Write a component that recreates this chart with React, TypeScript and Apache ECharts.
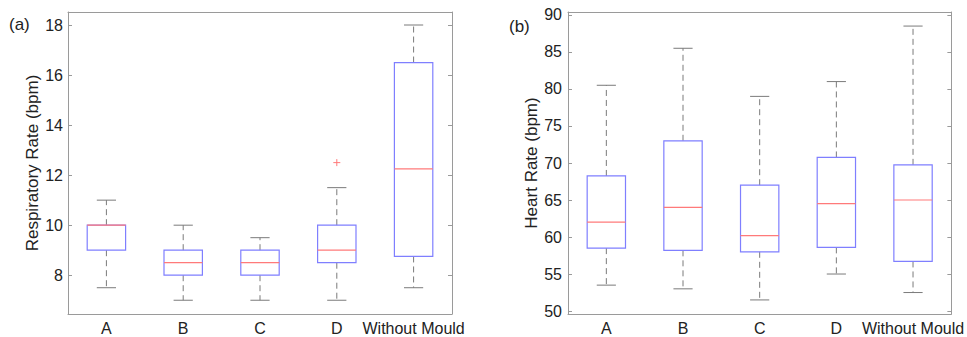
import React, { useEffect, useRef } from "react";
import * as echarts from "echarts";

const categories = ["A", "B", "C", "D", "Without Mould"];

// Respiratory rate: [lowWhisker, q1, median, q3, highWhisker]
const rrLow = [7.5, 7, 7, 7, 7.5];
const rrQ1 = [9, 8, 8, 8.5, 8.75];
const rrMed = [10, 8.5, 8.5, 9, 12.25];
const rrQ3 = [10, 9, 9, 10, 16.5];
const rrHigh = [11, 10, 9.5, 11.5, 18];
const rrOutliers: [number, number][] = [[3, 12.5]];
const rrTicks = [8, 10, 12, 14, 16, 18];

// Heart rate
const hrLow = [53.5, 53, 51.5, 55, 52.5];
const hrQ1 = [58.5, 58.2, 58, 58.6, 56.7];
const hrMed = [62, 64, 60.2, 64.5, 65];
const hrQ3 = [68.25, 73, 67, 70.75, 69.75];
const hrHigh = [80.5, 85.5, 79, 81, 88.5];
const hrOutliers: [number, number][] = [];
const hrTicks = [50, 55, 60, 65, 70, 75, 80, 85, 90];

const FONT = "'Liberation Sans', Arial, Helvetica, sans-serif";
const TEXT = "#222222";
const AXIS = "#9a9a9a";
const BLUE = "#7f7fff";
const RED = "#ff7a7a";
const WHISK = "#7a7a7a";

function boxData(lo: number[], q1: number[], md: number[], q3: number[], hi: number[]) {
  return categories.map((_, i) => [i, lo[i], q1[i], md[i], q3[i], hi[i]]);
}

function boxRender(params: any, api: any) {
  const i = api.value(0);
  const lo = api.value(1), q1 = api.value(2), md = api.value(3), q3 = api.value(4), hi = api.value(5);
  const bw = api.size([1, 0])[0] * 0.5;
  const cw = bw * 0.5;
  const pLo = api.coord([i, lo]);
  const pQ1 = api.coord([i, q1]);
  const pMd = api.coord([i, md]);
  const pQ3 = api.coord([i, q3]);
  const pHi = api.coord([i, hi]);
  const x = pMd[0];
  const dash = { stroke: WHISK, lineWidth: 1, lineDash: [6, 4] };
  const solid = { stroke: WHISK, lineWidth: 1 };
  return {
    type: "group",
    children: [
      { type: "line", shape: { x1: x, y1: pQ3[1], x2: x, y2: pHi[1] }, style: dash },
      { type: "line", shape: { x1: x, y1: pQ1[1], x2: x, y2: pLo[1] }, style: dash },
      { type: "line", shape: { x1: x - cw / 2, y1: pHi[1], x2: x + cw / 2, y2: pHi[1] }, style: solid },
      { type: "line", shape: { x1: x - cw / 2, y1: pLo[1], x2: x + cw / 2, y2: pLo[1] }, style: solid },
      {
        type: "rect",
        shape: { x: x - bw / 2, y: pQ3[1], width: bw, height: pQ1[1] - pQ3[1] },
        style: { fill: "none", stroke: BLUE, lineWidth: 1.2 },
      },
      { type: "line", shape: { x1: x - bw / 2, y1: pMd[1], x2: x + bw / 2, y2: pMd[1] }, style: { stroke: RED, lineWidth: 1.2 } },
    ],
  };
}

function outlierRender(params: any, api: any) {
  const p = api.coord([api.value(0), api.value(1)]);
  const s = 3.5;
  return {
    type: "group",
    children: [
      { type: "line", shape: { x1: p[0] - s, y1: p[1], x2: p[0] + s, y2: p[1] }, style: { stroke: RED, lineWidth: 1 } },
      { type: "line", shape: { x1: p[0], y1: p[1] - s, x2: p[0], y2: p[1] + s }, style: { stroke: RED, lineWidth: 1 } },
    ],
  };
}

function makeAxes(gridIndex: number, min: number, max: number, ticks: number[], name: string, labelMargin: number) {
  const xBottom = {
    type: "category",
    gridIndex,
    data: categories,
    position: "bottom",
    axisLine: { lineStyle: { color: AXIS, width: 1 } },
    axisTick: { inside: true, alignWithLabel: true, length: 4, lineStyle: { color: AXIS } },
    axisLabel: { color: TEXT, fontSize: 16, fontFamily: FONT, margin: 6, interval: 0 },
    splitLine: { show: false },
  };
  const xTop = {
    type: "category",
    gridIndex,
    data: categories,
    position: "top",
    axisLine: { lineStyle: { color: AXIS, width: 1 } },
    axisTick: { inside: true, alignWithLabel: true, length: 4, lineStyle: { color: AXIS } },
    axisLabel: { show: false },
    splitLine: { show: false },
  };
  const yLeft = {
    type: "value",
    gridIndex,
    min,
    max,
    position: "left",
    name,
    nameLocation: "middle",
    nameGap: 27,
    nameTextStyle: { color: TEXT, fontSize: 17, fontFamily: FONT },
    axisLine: { show: true, lineStyle: { color: AXIS, width: 1 } },
    axisTick: { show: true, inside: true, length: 4, lineStyle: { color: AXIS }, customValues: ticks },
    axisLabel: { color: TEXT, fontSize: 16, fontFamily: FONT, margin: labelMargin, customValues: ticks },
    splitLine: { show: false },
  };
  const yRight = {
    type: "value",
    gridIndex,
    min,
    max,
    position: "right",
    axisLine: { show: true, lineStyle: { color: AXIS, width: 1 } },
    axisTick: { show: true, inside: true, length: 4, lineStyle: { color: AXIS }, customValues: ticks },
    axisLabel: { show: false, customValues: ticks },
    splitLine: { show: false },
  };
  return { x: [xBottom, xTop], y: [yLeft, yRight] };
}

export default function App() {
  const ref = useRef<HTMLDivElement>(null);
  useEffect(() => {
    document.body.style.margin = "0";
    if (!ref.current) return;
    const chart = echarts.init(ref.current, undefined, { renderer: "svg" });
    const a = makeAxes(0, 6.45, 18.52, rrTicks, "Respiratory Rate (bpm)", 5);
    const b = makeAxes(1, 49.6, 90.4, hrTicks, "Heart Rate (bpm)", 6);
    const option: any = {
      animation: false,
      backgroundColor: "#ffffff",
      grid: [
        { left: 68, right: 515, top: 12, bottom: 23, containLabel: false },
        { left: 568, right: 14, top: 12, bottom: 23, containLabel: false },
      ],
      xAxis: [...a.x, ...b.x],
      yAxis: [...a.y, ...b.y],
      graphic: [
        { type: "text", left: 9, top: 16, style: { text: "(a)", fontSize: 17, fontFamily: FONT, fill: TEXT } },
        { type: "text", left: 509, top: 18, style: { text: "(b)", fontSize: 17, fontFamily: FONT, fill: TEXT } },
      ],
      series: [
        {
          type: "custom",
          xAxisIndex: 0,
          yAxisIndex: 0,
          renderItem: boxRender,
          encode: { x: 0, y: [1, 2, 3, 4, 5] },
          data: boxData(rrLow, rrQ1, rrMed, rrQ3, rrHigh),
        },
        {
          type: "custom",
          xAxisIndex: 0,
          yAxisIndex: 0,
          renderItem: outlierRender,
          encode: { x: 0, y: 1 },
          data: rrOutliers,
        },
        {
          type: "custom",
          xAxisIndex: 2,
          yAxisIndex: 2,
          renderItem: boxRender,
          encode: { x: 0, y: [1, 2, 3, 4, 5] },
          data: boxData(hrLow, hrQ1, hrMed, hrQ3, hrHigh),
        },
        {
          type: "custom",
          xAxisIndex: 2,
          yAxisIndex: 2,
          renderItem: outlierRender,
          encode: { x: 0, y: 1 },
          data: hrOutliers,
        },
      ],
    };
    chart.setOption(option);
    return () => chart.dispose();
  }, []);
  return <div ref={ref} style={{ width: 967, height: 337 }} />;
}
